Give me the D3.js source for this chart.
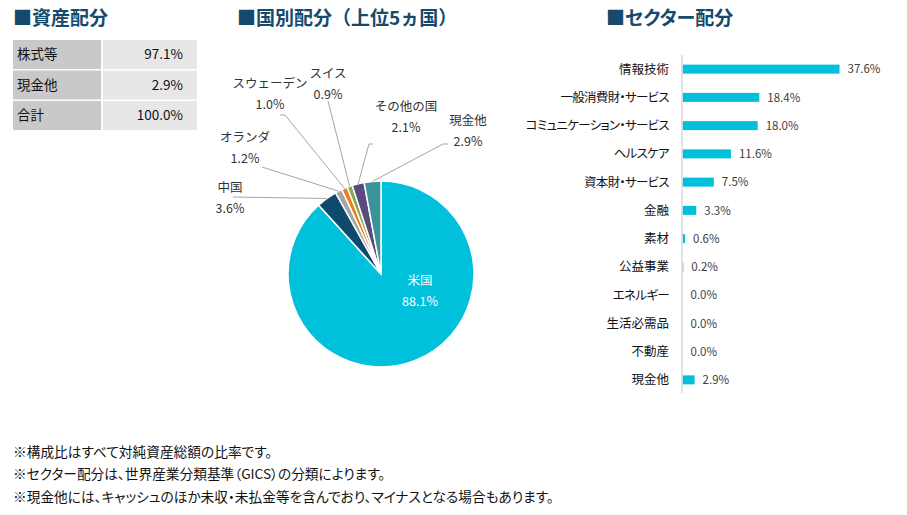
<!DOCTYPE html>
<html>
<head>
<meta charset="utf-8">
<script src="https://cdn.jsdelivr.net/npm/d3@7"></script>
<style>
  body { margin: 0; background: #fff; }
  svg { display: block; font-family: "Noto Sans CJK JP", "Noto Sans", sans-serif; }
  .palt { font-feature-settings: "palt"; }
  .full { font-feature-settings: normal; }
</style>
</head>
<body>
<svg id="chart"></svg>
<script>
const width = 907;
const height = 515;

// --- data ---
const assetNames = ["株式等", "現金他", "合計"];
const assetValues = [97.1, 2.9, 100.0];

const countryNames = ["米国", "中国", "オランダ", "スウェーデン", "スイス", "その他の国", "現金他"];
const countryValues = [88.1, 3.6, 1.2, 1.0, 0.9, 2.1, 2.9];
const countryColors = ["#00c0dc", "#0d4a6c", "#a6a6a6", "#ea7d1d", "#86a94a", "#5b4a7d", "#3a9399"];

const sectorNames = ["情報技術", "一般消費財・サービス", "コミュニケーション・サービス", "ヘルスケア", "資本財・サービス",
  "金融", "素材", "公益事業", "エネルギー", "生活必需品", "不動産", "現金他"];
const sectorValues = [37.6, 18.4, 18.0, 11.6, 7.5, 3.3, 0.6, 0.2, 0.0, 0.0, 0.0, 2.9];

const notes = [
  "※構成比はすべて対純資産総額の比率です。",
  "※セクター配分は、世界産業分類基準（GICS）の分類によります。",
  "※現金他には、キャッシュのほか未収・未払金等を含んでおり、マイナスとなる場合もあります。"
];

const titleColor = "#154a6d";
const fmt = d3.format(".1f");

const svg = d3.select("#chart")
  .attr("width", width)
  .attr("height", height)
  .attr("viewBox", [0, 0, width, height]);

// --- titles ---
const titles = [
  { text: "■資産配分", x: 13, cls: "palt" },
  { text: "■国別配分（上位5ヵ国）", x: 237, cls: "full" },
  { text: "■セクター配分", x: 606, cls: "palt" }
];
svg.selectAll(".title")
  .data(titles)
  .join("text")
  .attr("class", d => "title " + d.cls)
  .attr("x", d => d.x)
  .attr("y", 25)
  .attr("font-size", 19)
  .attr("font-weight", "bold")
  .attr("fill", titleColor)
  .text(d => d.text);

// --- asset table ---
const gTable = svg.append("g");
const rowY = d3.scaleBand().domain(assetNames).range([40, 130]).paddingInner(0.05);

const rows = gTable.selectAll("g")
  .data(assetNames)
  .join("g")
  .attr("transform", d => `translate(0, ${rowY(d)})`);

rows.append("rect")
  .attr("x", 13).attr("width", 88)
  .attr("height", rowY.bandwidth())
  .attr("fill", "#c9c9c9");
rows.append("rect")
  .attr("x", 103).attr("width", 94)
  .attr("height", rowY.bandwidth())
  .attr("fill", "#e7e7e7");
rows.append("text")
  .attr("x", 17)
  .attr("y", rowY.bandwidth() / 2)
  .attr("dy", "0.36em")
  .attr("font-size", 13.5)
  .attr("fill", "#111")
  .text(d => d);
rows.append("text")
  .attr("x", 183)
  .attr("y", rowY.bandwidth() / 2)
  .attr("dy", "0.36em")
  .attr("text-anchor", "end")
  .attr("font-size", 13.5)
  .attr("fill", "#111")
  .text((d, i) => fmt(assetValues[i]) + "%");

// --- country pie ---
const cx = 381, cy = 274, r = 93;
const gPie = svg.append("g").attr("transform", `translate(${cx}, ${cy})`);

const pie = d3.pie().sort(null).value(d => d)(countryValues);
const arc = d3.arc().innerRadius(0).outerRadius(r);

gPie.selectAll("path")
  .data(pie)
  .join("path")
  .attr("d", arc)
  .attr("fill", (d, i) => countryColors[i])
  .attr("stroke", "#fff")
  .attr("stroke-width", 1.5);

// label layout (text centre, leader line start, optional elbow)
const labelSpots = [
  { x: 420, y: 280, inside: true },
  { x: 230, y: 187, line: [[233, 197]] },
  { x: 245, y: 137, line: [[262, 167]] },
  { x: 270, y: 83, line: [[280, 115], [285, 115]] },
  { x: 328, y: 73, line: [[328, 101]] },
  { x: 406, y: 106, line: [[373, 144], [369, 144]] },
  { x: 468, y: 120, line: [[448, 144], [443, 144]] }
];

const edgePoint = d => {
  const a = (d.startAngle + d.endAngle) / 2;
  return [cx + r * Math.sin(a), cy - r * Math.cos(a)];
};

const gLabels = svg.append("g");
pie.forEach((d, i) => {
  const s = labelSpots[i];
  if (s.line) {
    gLabels.append("path")
      .attr("d", d3.line()(s.line.concat([edgePoint(d)])))
      .attr("fill", "none")
      .attr("stroke", "#a6a6a6")
      .attr("stroke-width", 1);
  }
  const col = s.inside ? "#fff" : "#333";
  gLabels.append("text")
    .attr("x", s.x).attr("y", s.y)
    .attr("dy", "0.36em")
    .attr("text-anchor", "middle")
    .attr("font-size", 12.5)
    .attr("fill", col)
    .text(countryNames[i]);
  gLabels.append("text")
    .attr("x", s.x).attr("y", s.y + 21)
    .attr("dy", "0.36em")
    .attr("text-anchor", "middle")
    .attr("font-size", 12.5)
    .attr("fill", col)
    .text(fmt(d.data) + "%");
});

// --- sector bars ---
const x0 = 682.5;
const x = d3.scaleLinear().domain([0, 37.6]).range([x0, x0 + 157]);
const y = d3.scaleBand().domain(sectorNames).range([55, 394]).paddingInner(0.7).paddingOuter(0.35);

const gBars = svg.append("g");

gBars.selectAll("rect")
  .data(sectorValues)
  .join("rect")
  .attr("x", x0)
  .attr("y", (d, i) => y(sectorNames[i]) + y.bandwidth() / 2 - 4.5)
  .attr("width", d => x(d) - x0)
  .attr("height", 9)
  .attr("fill", "#00c0dc");

gBars.append("line")
  .attr("x1", x0 - 0.5).attr("x2", x0 - 0.5)
  .attr("y1", 55).attr("y2", 393)
  .attr("stroke", "#d9d9d9")
  .attr("stroke-width", 1.5);

gBars.selectAll(".cat")
  .data(sectorNames)
  .join("text")
  .attr("class", "cat palt")
  .attr("x", 669)
  .attr("y", d => y(d) + y.bandwidth() / 2)
  .attr("dy", "0.36em")
  .attr("text-anchor", "end")
  .attr("font-size", 12.5)
  .attr("letter-spacing", d => /[ァ-ヶー]/.test(d) ? -0.7 : 0)
  .attr("fill", "#111")
  .text(d => d);

gBars.selectAll(".val")
  .data(sectorValues)
  .join("text")
  .attr("class", "val")
  .attr("x", d => x(d) + 8)
  .attr("y", (d, i) => y(sectorNames[i]) + y.bandwidth() / 2)
  .attr("dy", "0.36em")
  .attr("font-size", 11.5)
  .attr("fill", "#404040")
  .text(d => fmt(d) + "%");

// --- footnotes ---
svg.selectAll(".note")
  .data(notes)
  .join("text")
  .attr("class", "note palt")
  .attr("x", 13)
  .attr("y", (d, i) => 452 + i * 22.5)
  .attr("dy", "0.36em")
  .attr("font-size", 13.7)
  .attr("fill", "#111")
  .text(d => d);
</script>
</body>
</html>
